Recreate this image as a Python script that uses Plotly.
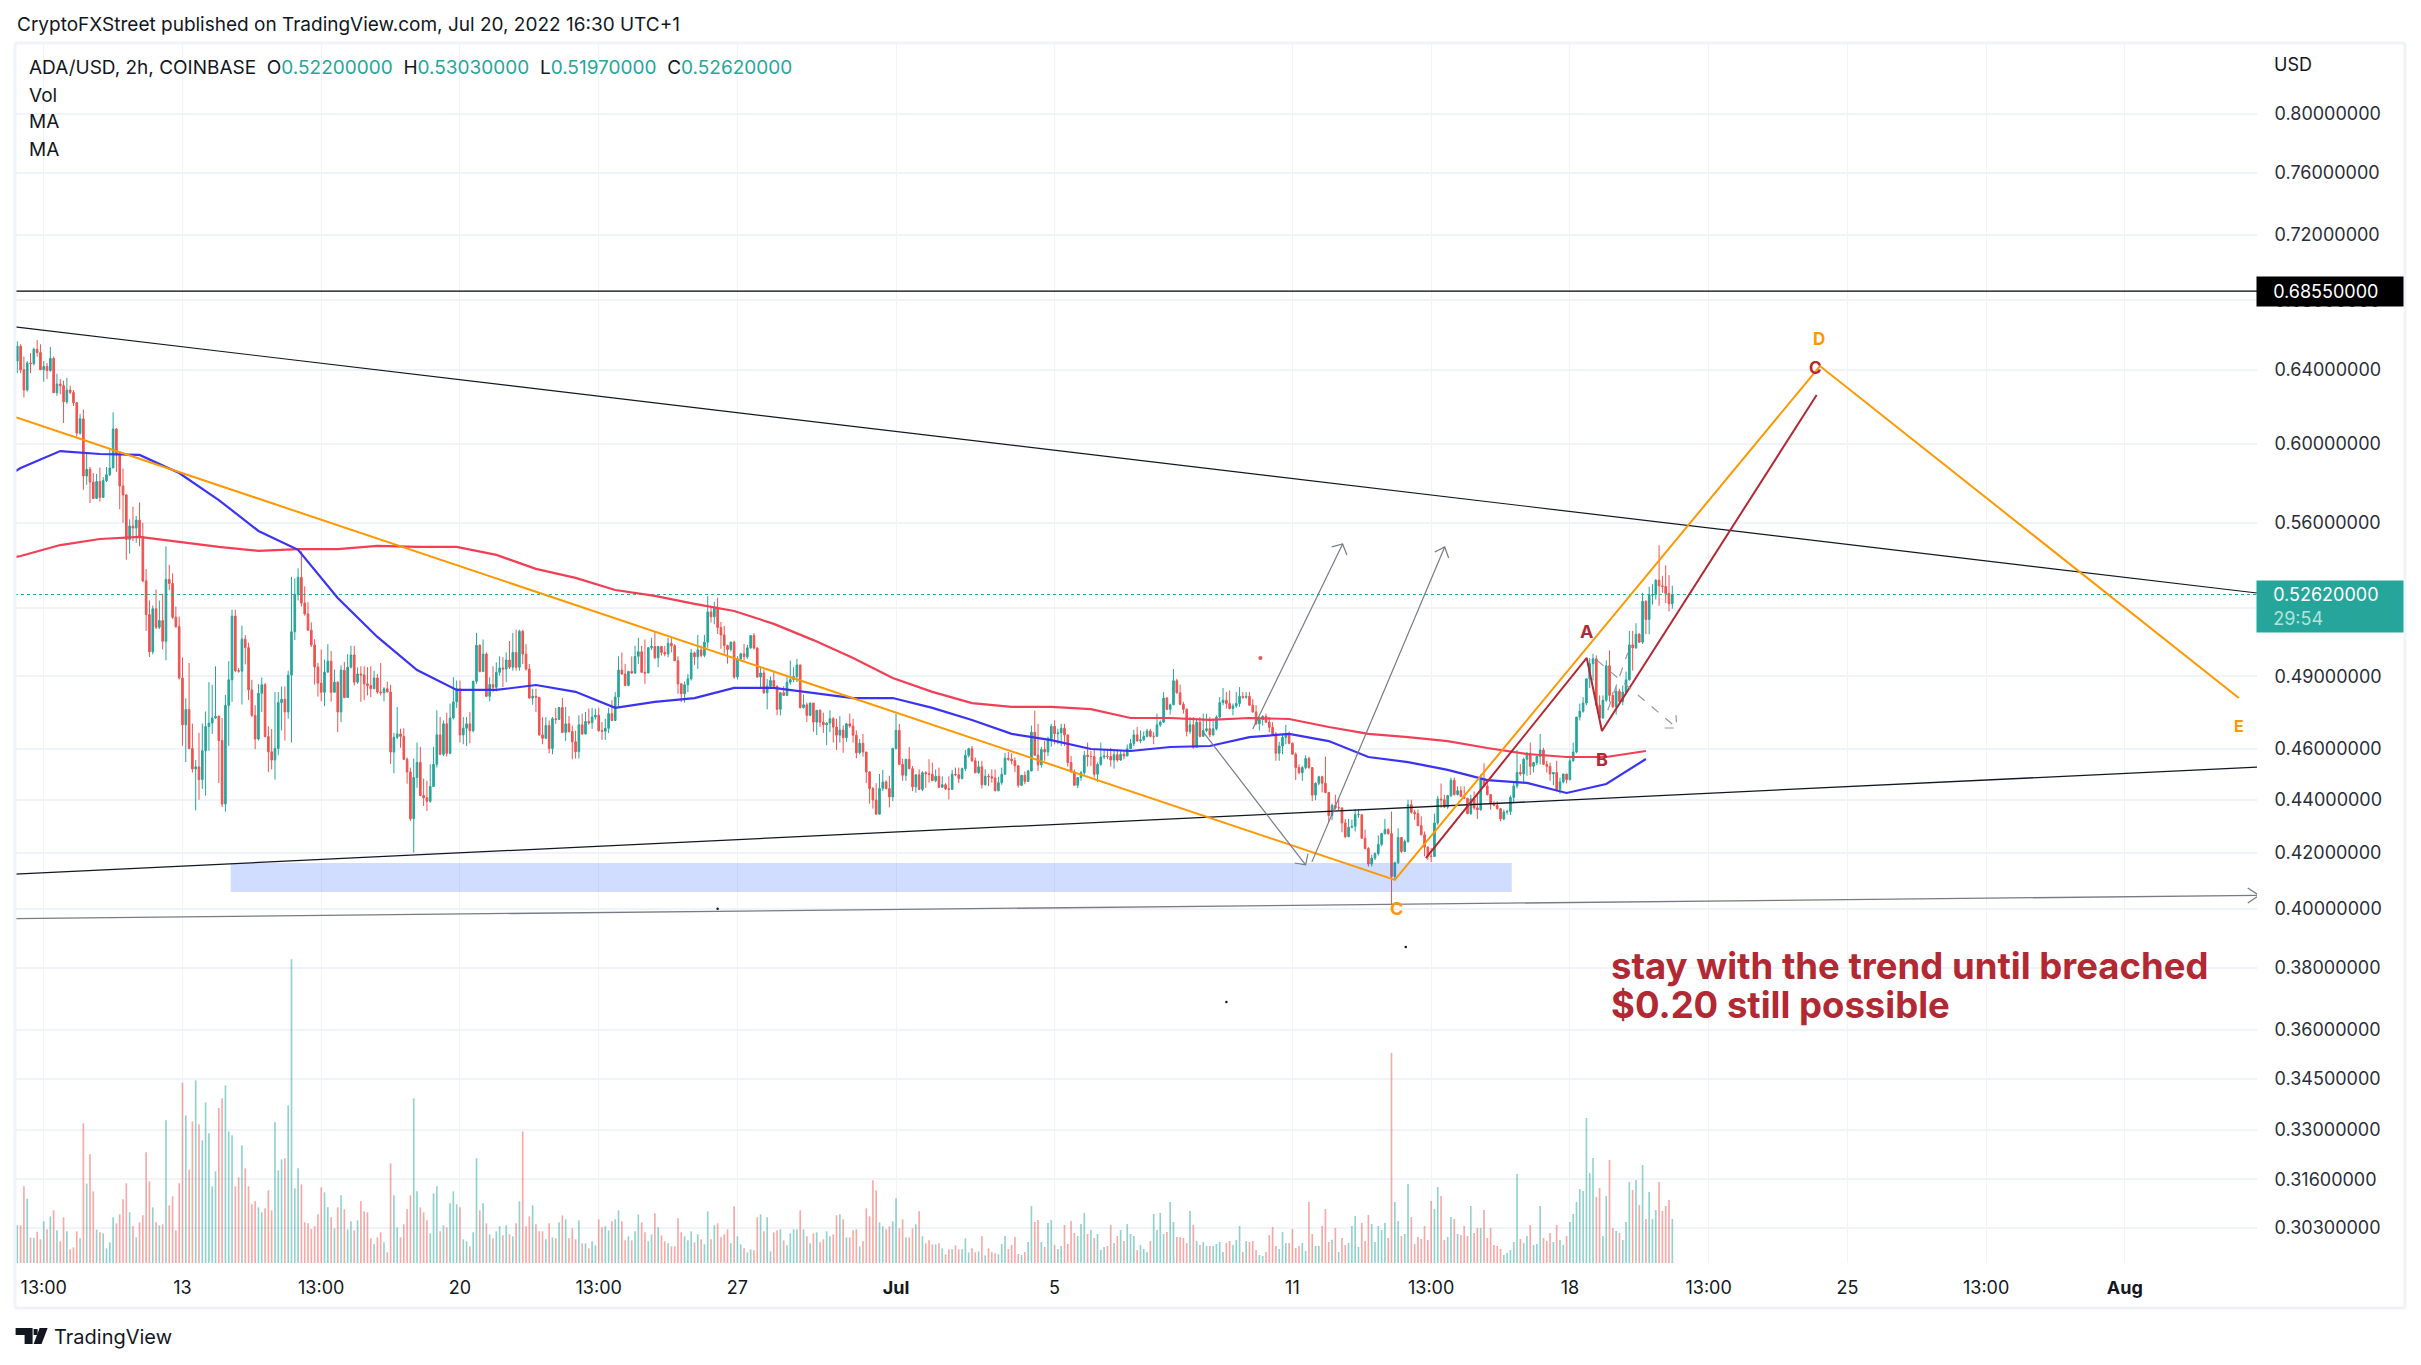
import numpy as np
import pandas as pd
import plotly.graph_objects as go

# prices are in 1/10000 USD, one row of ten per line
FIRST_OPEN = 6450
closes = [
    6534,6401,6289,6439,6435,6517,6498,6401,6420,6397,
    6465,6274,6322,6313,6225,6289,6276,6220,6057,6133,
    5835,5869,5804,5722,5807,5727,5812,5841,5876,6079,
    5943,5784,5739,5521,5586,5576,5615,5534,5325,5171,
    5006,5197,5114,5144,5052,5332,5313,5159,5117,4893,
    4697,4760,4601,4520,4528,4478,4592,4690,4704,4725,
    4732,4633,4384,4777,4885,5164,4924,4922,5061,5024,
    4842,4736,4639,4828,4864,4649,4588,4555,4601,4789,
    4803,4750,4905,5094,5263,5341,5223,5174,5101,5036,
    4940,4871,4832,4918,4965,4832,4875,4750,4926,4810,
    4939,4992,4875,4910,4906,4868,4861,4847,4893,4833,
    4830,4847,4833,4587,4646,4660,4650,4558,4508,4328,
    4486,4545,4416,4408,4394,4451,4538,4656,4578,4701,
    4582,4725,4792,4847,4656,4683,4701,4673,4879,5034,
    4920,4996,4815,4865,4853,4917,4936,4931,4970,4939,
    5003,4939,5096,4996,4931,4808,4815,4811,4656,4642,
    4694,4601,4722,4719,4768,4666,4701,4669,4628,4588,
    4697,4660,4711,4705,4729,4736,4673,4671,4683,4743,
    4715,4812,4927,4910,4861,4921,4914,4986,5006,4917,
    4914,5024,5029,4980,5029,5003,4996,5043,5032,4967,
    4868,4826,4864,4889,5001,4984,5014,4990,5048,5183,
    5161,5204,5113,5080,5033,5016,5048,4897,4975,4997,
    4984,5023,5077,5022,4897,4914,4830,4858,4882,4858,
    4761,4830,4819,4875,4886,4899,4949,4768,4780,4736,
    4787,4708,4757,4708,4697,4704,4722,4688,4655,4676,
    4644,4701,4692,4655,4584,4622,4587,4508,4443,4399,
    4345,4444,4469,4443,4411,4601,4674,4538,4495,4558,
    4521,4450,4497,4440,4505,4501,4499,4474,4491,4448,
    4458,4442,4440,4499,4497,4482,4521,4574,4600,4552,
    4505,4528,4458,4491,4489,4484,4435,4466,4499,4562,
    4558,4552,4532,4456,4495,4471,4512,4667,4574,4536,
    4597,4587,4641,4691,4661,4664,4683,4656,4545,4508,
    4456,4486,4505,4574,4569,4569,4499,4538,4567,4571,
    4569,4555,4576,4555,4578,4571,4600,4621,4656,4632,
    4636,4650,4672,4650,4650,4697,4708,4808,4761,4780,
    4881,4830,4782,4761,4670,4697,4606,4708,4650,4674,
    4681,4656,4681,4729,4789,4799,4785,4764,4775,4785,
    4815,4811,4815,4778,4750,4701,4719,4732,4708,4687,
    4660,4582,4611,4646,4660,4622,4578,4525,4505,4525,
    4561,4525,4418,4464,4489,4464,4428,4340,4378,4369,
    4369,4312,4261,4296,4299,4343,4343,4255,4217,4160,
    4182,4198,4232,4272,4287,4272,4115,4165,4258,4206,
    4243,4381,4352,4347,4302,4268,4222,4190,4188,4312,
    4403,4400,4372,4416,4475,4420,4435,4413,4406,4347,
    4403,4369,4362,4479,4453,4420,4385,4379,4366,4327,
    4353,4355,4409,4453,4506,4500,4558,4582,4530,4545,
    4569,4595,4538,4530,4500,4506,4440,4469,4500,4478,
    4552,4587,4729,4753,4787,4889,4954,4975,4778,4725,
    4799,4945,4819,4771,4836,4794,4833,4885,5036,5023,
    5083,5048,5231,5149,5259,5262,5328,5302,5299,5267,
    5220,5262,
]
highs = [
    6562,6545,6476,6450,6495,6526,6569,6545,6450,6439,
    6530,6476,6379,6350,6341,6356,6313,6289,6223,6160,
    6183,5951,5881,5850,5846,5878,5829,5881,5977,6168,
    6084,5960,5873,5743,5619,5681,5635,5702,5602,5380,
    5235,5212,5285,5235,5266,5488,5400,5360,5207,5162,
    4981,4807,4957,4702,4555,4664,4702,4752,4875,4864,
    4943,4736,4725,4821,4965,5193,5193,4936,5121,5079,
    5046,4885,4778,4867,4895,4871,4691,4680,4833,4833,
    4857,4857,4924,5344,5337,5384,5464,5300,5227,5136,
    5061,4958,5016,4972,5039,5009,4929,4878,4947,4962,
    4996,5032,5032,4938,4943,4943,4939,4943,4924,4910,
    4957,4854,4877,4864,4664,4771,4681,4683,4565,4525,
    4561,4625,4608,4482,4473,4538,4608,4757,4729,4715,
    4747,4785,4896,4882,4882,4729,4729,4750,4879,5089,
    5039,5060,5003,4896,4943,4960,4986,4982,5003,5053,
    5089,5103,5103,5103,5039,4953,4847,4847,4812,4729,
    4729,4715,4729,4767,4771,4808,4771,4733,4694,4673,
    4736,4743,4750,4764,4767,4764,4767,4708,4722,4767,
    4799,4833,4986,5003,4953,4921,4986,5032,5067,5032,
    5060,5024,5067,5096,5032,5032,5032,5067,5072,5039,
    4986,4861,4878,4910,5019,5007,5080,5033,5080,5255,
    5210,5229,5248,5138,5120,5037,5051,5055,4987,5001,
    5040,5036,5077,5088,5026,4943,4928,4889,4900,4917,
    4861,4833,4858,4903,4968,4939,4975,4949,4822,4789,
    4789,4785,4757,4761,4747,4708,4757,4729,4722,4733,
    4694,4705,4743,4722,4674,4639,4660,4587,4511,4449,
    4464,4500,4516,4475,4493,4604,4743,4701,4560,4558,
    4607,4531,4497,4518,4511,4511,4558,4545,4518,4525,
    4491,4464,4491,4516,4525,4525,4525,4595,4604,4611,
    4565,4552,4552,4518,4500,4518,4518,4489,4525,4584,
    4587,4582,4565,4534,4495,4510,4516,4694,4755,4701,
    4608,4632,4649,4701,4715,4681,4701,4701,4656,4571,
    4518,4486,4512,4591,4625,4591,4597,4545,4625,4600,
    4600,4604,4597,4597,4591,4591,4617,4639,4677,4688,
    4674,4670,4681,4681,4667,4743,4715,4833,4812,4785,
    4931,4889,4864,4792,4764,4729,4729,4725,4729,4743,
    4743,4729,4722,4736,4812,4850,4833,4840,4785,4833,
    4854,4833,4833,4833,4803,4778,4729,4736,4743,4729,
    4708,4667,4628,4660,4697,4670,4625,4585,4538,4532,
    4574,4569,4525,4467,4493,4493,4569,4430,4385,4419,
    4406,4369,4327,4327,4324,4365,4365,4343,4287,4222,
    4194,4203,4265,4275,4327,4292,4355,4169,4292,4258,
    4250,4400,4400,4362,4362,4337,4280,4225,4219,4347,
    4415,4463,4419,4419,4486,4486,4452,4452,4452,4406,
    4419,4432,4426,4499,4542,4479,4419,4394,4394,4366,
    4362,4362,4416,4471,4595,4539,4565,4587,4625,4548,
    4572,4660,4604,4552,4545,4506,4552,4486,4500,4500,
    4572,4625,4729,4785,4812,4889,4979,4997,4990,4819,
    4819,4968,5012,4833,4854,4847,4861,4920,5098,5098,
    5132,5088,5270,5236,5298,5310,5333,5493,5349,5398,
    5352,5303,
]
lows = [
    6382,6382,6248,6281,6382,6425,6474,6401,6335,6350,
    6390,6274,6257,6266,6111,6214,6266,6202,6040,6049,
    5765,5791,5699,5719,5719,5706,5724,5804,5835,5876,
    5856,5668,5602,5424,5453,5513,5505,5488,5318,5098,
    4983,4995,5106,5106,5016,4969,5282,5151,5111,4886,
    4612,4547,4598,4505,4359,4400,4442,4416,4592,4660,
    4722,4465,4372,4355,4612,4792,4918,4915,4781,4951,
    4800,4729,4598,4633,4750,4646,4507,4518,4478,4574,
    4674,4633,4722,4625,5057,5235,5207,5166,5098,5027,
    4864,4814,4795,4774,4915,4793,4832,4667,4708,4807,
    4816,4934,4861,4868,4792,4799,4819,4812,4847,4826,
    4819,4794,4833,4539,4503,4639,4604,4555,4462,4319,
    4202,4446,4414,4376,4357,4389,4451,4525,4574,4571,
    4569,4578,4719,4767,4625,4618,4611,4622,4666,4868,
    4917,4920,4812,4794,4833,4836,4903,4854,4875,4931,
    4924,4924,4924,4953,4924,4805,4780,4750,4653,4618,
    4639,4582,4578,4701,4719,4663,4632,4666,4558,4561,
    4561,4656,4657,4697,4680,4719,4669,4636,4636,4663,
    4712,4715,4767,4906,4858,4858,4910,4910,4953,4914,
    4868,4914,5014,4974,4939,4989,4986,4982,5003,4967,
    4826,4791,4789,4833,4882,4949,4932,4982,4982,5023,
    5135,5128,5084,5019,4997,4954,5007,4889,4886,4964,
    4968,4975,5019,5016,4894,4854,4826,4761,4850,4854,
    4736,4736,4817,4817,4864,4875,4875,4764,4764,4708,
    4732,4669,4655,4688,4664,4614,4667,4625,4595,4625,
    4584,4628,4685,4625,4562,4578,4569,4464,4385,4366,
    4345,4345,4433,4440,4371,4395,4597,4535,4473,4473,
    4518,4433,4427,4437,4433,4446,4466,4472,4468,4446,
    4450,4437,4401,4443,4491,4464,4479,4511,4565,4548,
    4503,4501,4443,4455,4453,4466,4433,4433,4458,4498,
    4552,4538,4508,4447,4453,4460,4470,4510,4571,4512,
    4525,4552,4571,4608,4618,4618,4611,4611,4529,4505,
    4456,4445,4473,4495,4529,4532,4486,4469,4532,4558,
    4558,4529,4521,4548,4552,4558,4578,4597,4611,4628,
    4622,4632,4646,4646,4618,4650,4688,4705,4757,4739,
    4778,4826,4778,4743,4650,4660,4600,4604,4646,4653,
    4667,4646,4653,4674,4722,4778,4764,4761,4736,4767,
    4771,4805,4805,4775,4747,4697,4674,4694,4705,4667,
    4656,4552,4552,4578,4618,4618,4578,4476,4499,4473,
    4518,4521,4395,4398,4456,4428,4425,4315,4322,4362,
    4360,4277,4255,4258,4292,4280,4331,4252,4213,4151,
    4151,4175,4191,4225,4268,4268,4015,4103,4160,4200,
    4206,4238,4347,4324,4299,4265,4188,4175,4167,4185,
    4305,4369,4369,4365,4410,4416,4416,4410,4403,4345,
    4343,4362,4327,4358,4450,4416,4362,4375,4362,4318,
    4322,4343,4342,4387,4444,4493,4467,4493,4496,4506,
    4535,4538,4535,4506,4473,4456,4432,4423,4463,4463,
    4475,4548,4582,4715,4747,4778,4850,4882,4775,4722,
    4722,4792,4792,4768,4739,4785,4778,4823,4882,4924,
    5019,5045,5040,5083,5083,5216,5239,5211,5270,5223,
    5185,5197,
]
# volume, arbitrary units
volumes = [
    113,113,230,193,76,76,94,71,125,101,140,158,98,65,137,95,41,47,95,74,
    419,238,326,215,100,92,89,44,62,137,119,146,191,239,152,110,77,122,143,332,
    245,167,122,113,116,428,173,200,98,239,541,443,280,425,548,416,368,482,389,230,
    275,465,494,533,395,383,230,257,353,284,230,176,185,167,152,164,218,158,422,278,
    311,314,473,911,224,284,236,122,119,102,110,146,227,212,167,137,104,167,203,161,
    101,125,98,128,185,155,152,74,56,77,92,62,32,299,203,107,77,116,161,203,
    494,215,167,152,128,89,209,230,95,113,107,179,215,176,167,71,65,50,92,314,
    158,179,119,86,74,95,110,83,113,86,80,119,185,395,110,140,173,116,95,95,
    71,119,77,74,122,143,131,74,104,71,128,59,59,44,65,53,131,107,110,98,
    125,131,158,125,68,80,68,95,146,122,92,65,86,149,107,83,65,59,50,50,
    134,92,80,68,95,62,86,71,56,155,71,113,119,77,86,101,59,170,80,56,
    44,32,41,38,137,146,95,137,35,92,98,101,68,53,89,101,101,158,101,80,
    59,89,92,62,71,95,80,86,143,146,131,77,77,98,101,50,65,164,140,248,
    218,122,110,101,110,125,194,104,131,77,77,104,116,155,80,59,68,56,56,59,
    44,26,41,41,53,41,41,74,32,44,32,35,80,23,44,32,29,26,
    57,81,42,54,78,27,24,33,63,171,123,129,63,48,120,129,54,42,51,114,
    57,126,90,81,117,150,87,99,75,87,39,48,51,114,60,81,99,66,117,87,
    81,39,54,42,33,66,147,99,150,87,93,183,123,78,78,75,60,156,114,66,
    54,63,51,51,51,57,63,33,60,66,54,69,111,33,66,63,66,39,24,21,
    33,84,108,51,42,93,60,60,102,45,51,60,36,183,87,51,51,111,162,63,
    70,105,33,75,54,60,111,141,48,120,66,144,117,63,111,99,120,75,630,183,
    126,81,87,237,138,57,78,72,111,69,186,162,228,201,69,78,138,132,87,84,
    111,81,171,90,105,105,159,75,105,54,51,42,24,30,39,63,267,72,60,81,
    114,54,57,171,75,66,90,63,114,69,54,81,123,147,183,222,216,435,270,315,
    198,225,81,201,309,105,96,90,69,123,243,219,249,174,294,132,213,132,159,243,
    156,171,189,132,
]

# daily moving averages, one value per day from ma_start
ma_start = "2022-06-07 23:00"
ma_blue = [
    .5749,.5876,.5963,.5948,.5943,.5850,.5714,.5562,.5471,.5246,.5071,.4927,.4842,.4842,
    .4863,.4834,.4767,.4792,.4808,.4851,.4851,.4830,.4808,.4808,.4767,.4717,.4660,.4635,
    .4599,.4591,.4607,.4611,.4647,.4660,.4631,.4567,.4547,.4516,.4476,.4465,.4426,.4461,.4559,
]
ma_red = [
    .5400,.5442,.5494,.5523,.5533,.5509,.5485,.5466,.5475,.5475,.5490,.5485,.5485,.5447,
    .5381,.5339,.5283,.5256,.5219,.5187,.5129,.5057,.4979,.4893,.4834,.4787,.4771,.4771,
    .4762,.4725,.4725,.4717,.4725,.4721,.4688,.4660,.4647,.4631,.4603,.4579,.4567,.4567,.4591,
]

# 0.52 has a gridline but its label sits behind the last price box
price_ticks = [.80,.76,.72,.68,.64,.60,.56,.52,.49,.46,.44,.42,.40,.38,.36,.345,.33,.316,.303]
hidden_price_labels = [.52]
time_ticks = ["2022-06-09 13:00","2022-06-13 01:00","2022-06-16 13:00","2022-06-20 01:00",
              "2022-06-23 13:00","2022-06-27 01:00","2022-07-01 01:00","2022-07-05 01:00",
              "2022-07-11 01:00","2022-07-14 13:00","2022-07-18 01:00","2022-07-21 13:00",
              "2022-07-25 01:00","2022-07-28 13:00","2022-08-01 01:00"]
time_labels = ["13:00","13","13:00","20","13:00","27","<b>Jul</b>","5","11","13:00","18","13:00",
               "25","13:00","<b>Aug</b>"]

# drawings on the chart: bar offsets from the first bar, and prices
resistance_level = .6855
last_price = .5262
upper_trend = ([-0.7, 678], [.6645, .5269])
lower_trend = ([-0.7, 678], [.4124, .4527])
base_arrow = ([-0.7, 678.6, None, 675.2, 678.6, 675.2], [.3967, .4048, None, .4074, .4048, .4021])
orange_abcd = ([-0.7, 417, 545.7, 672.5], [.6143, .4103, .6422, .4808])
red_abc = ([426.4, 475.1, 479.7, 544.7], [.4182, .4979, .4672, .6262])
grey_arrows = [
    ([374, 401.2, None, 397.9, 401.2, 402.5], [.4680, .5499, None, .5485, .5499, .5447]),
    ([391.9, 432.1, None, 429.1, 432.1, 433.3], [.4168, .5485, None, .5461, .5485, .5432]),
    ([359.2, 390, None, 386.7, 390, 390.7], [.4664, .4157, None, .4164, .4157, .4197]),
]
dashed_arrows = [
    ([478.1, 502.4, None, 498.7, 502.4, 502.1], [.4970, .4684, None, .4684, .4684, .4737]),
    ([481.5, 487.5], [.4758, .5001]),
]
support_zone = ([64.6, 452.4, 452.4, 64.6, 64.6], [.4164, .4164, .4060, .4060, .4164])
stray_dots = ([212, 366, 420.3], [.4001, .3689, .3870])
red_dot = ([376.3], [.4979])

UP = "#26a69a"
DOWN = "#ef5350"
GRID = "#f0f3fa"
TEXT = "#131722"
ORANGE = "#ff9800"
DARK_RED = "#b22833"
GREY = "#787b86"
FONT = "Inter"

# page has an 8px body margin, all pixel positions below are for the full window
PAGE = 8
LEFT, RIGHT, TOP, BOTTOM = 15.4, 2257, 43, 1263
WIDTH, HEIGHT = 2421 - 2 * PAGE, 1365 - 2 * PAGE

START = pd.Timestamp("2022-06-08 21:00")


def bar_time(bars):
    out = []
    for b in bars:
        out.append(None if b is None else (START + pd.Timedelta(hours=2 * b)).strftime("%Y-%m-%d %H:%M:%S"))
    return out


def px(x):
    return (x - LEFT) / (RIGHT - LEFT)


def py(y):
    return 1 - (y - TOP) / (BOTTOM - TOP)


opens = [FIRST_OPEN] + closes[:-1]
times = bar_time(list(range(len(closes))))
vol_colors = ["rgba(38,166,154,0.5)" if c >= o else "rgba(239,83,80,0.5)" for o, c in zip(opens, closes)]
ma_times = pd.date_range(ma_start, periods=len(ma_blue), freq="D").strftime("%Y-%m-%d %H:%M:%S").tolist()


def add_line(fig, pts, color, width=1.2, dash="solid"):
    fig.add_trace(
        go.Scatter(
            x=bar_time(pts[0]),
            y=pts[1],
            mode="lines",
            line=dict(color=color, width=width, dash=dash),
            hoverinfo="skip",
            connectgaps=False,
        )
    )


fig = go.Figure()

fig.add_trace(
    go.Scatter(
        x=bar_time(support_zone[0]),
        y=support_zone[1],
        mode="lines",
        fill="toself",
        fillcolor="rgba(41,98,255,0.22)",
        line=dict(width=0),
        hoverinfo="skip",
    )
)
add_line(fig, upper_trend, "#131722", 1.2)
add_line(fig, lower_trend, "#131722", 1.3)
add_line(fig, base_arrow, GREY, 1.3)
add_line(fig, ([-0.7, 678], [resistance_level, resistance_level]), "#000000", 1.3)
add_line(fig, ([-0.7, 678], [last_price, last_price]), UP, 1, "dot")

fig.add_trace(
    go.Candlestick(
        x=times,
        open=[v / 10000 for v in opens],
        high=[v / 10000 for v in highs],
        low=[v / 10000 for v in lows],
        close=[v / 10000 for v in closes],
        increasing=dict(line=dict(color=UP, width=1), fillcolor=UP),
        decreasing=dict(line=dict(color=DOWN, width=1), fillcolor=DOWN),
        whiskerwidth=0,
    )
)
fig.add_trace(
    go.Bar(
        x=times,
        y=volumes,
        width=3.6e6,
        marker=dict(color=vol_colors, line=dict(width=0)),
        yaxis="y2",
    )
)

fig.add_trace(go.Scatter(x=ma_times, y=ma_red, mode="lines", line=dict(color="#f23f55", width=2.2)))
fig.add_trace(go.Scatter(x=ma_times, y=ma_blue, mode="lines", line=dict(color="#3a33f5", width=2.2)))

add_line(fig, orange_abcd, ORANGE, 2)
add_line(fig, red_abc, DARK_RED, 2)
for arrow in grey_arrows:
    add_line(fig, arrow, GREY, 1.2)
for arrow in dashed_arrows:
    add_line(fig, arrow, "#9598a1", 1.2, "dash")

fig.add_trace(go.Scatter(x=bar_time(stray_dots[0]), y=stray_dots[1], mode="markers",
                         marker=dict(color="#131722", size=2.5)))
fig.add_trace(go.Scatter(x=bar_time(red_dot[0]), y=red_dot[1], mode="markers",
                         marker=dict(color=DOWN, size=4)))

notes = []


def note(x, y, text, size=18, color=TEXT, anchor="left", **kw):
    notes.append(
        dict(
            x=px(x), y=py(y), xref="paper", yref="paper", text=text, showarrow=False,
            xanchor=anchor, yanchor="middle", align="left",
            font=dict(family=FONT, size=size, color=color), **kw,
        )
    )


def v(text):
    return f'<span style="color:{UP}">{text}</span>'


note(15, 25, "CryptoFXStreet published on TradingView.com, Jul 20, 2022 16:30 UTC+1", 19)
note(27, 68, f"ADA/USD, 2h, COINBASE&nbsp;&nbsp;O{v('0.52200000')}&nbsp;&nbsp;H{v('0.53030000')}"
             f"&nbsp;&nbsp;L{v('0.51970000')}&nbsp;&nbsp;C{v('0.52620000')}", 19)
note(27, 95, "Vol", 19)
note(27, 122, "MA", 19)
note(27, 149, "MA", 19)
note(2272, 64, "USD", 18)

note(1819, 339, "<b>D</b>", 17, ORANGE, "center")
note(1816, 368, "<b>C</b>", 17, DARK_RED, "center")
note(1587, 631, "<b>A</b>", 18, DARK_RED, "center")
note(1602, 759, "<b>B</b>", 18, DARK_RED, "center")
note(2239, 726, "<b>E</b>", 16, ORANGE, "center")
note(1397, 908, "<b>C</b>", 18, ORANGE, "center")
note(1609, 966, "<b>stay with the trend until breached</b>", 36.5, DARK_RED)
note(1609, 1005, "<b>$0.20 still possible</b>", 36.5, DARK_RED)
note(52, 1337, "TradingView", 20)

note(2256, 291, "&nbsp;&nbsp;&nbsp;0.68550000", 18, "#ffffff", bgcolor="#000000", width=144, height=27)
note(2256, 606, "&nbsp;&nbsp;&nbsp;0.52620000<br>&nbsp;&nbsp;&nbsp;<span style='color:#b2e3dc'>29:54</span>",
     18, "#ffffff", bgcolor=UP, width=144, height=49)

frame = []
for x0, y0, x1, y1 in [(LEFT, TOP, 2405, TOP), (LEFT, 1308, 2405, 1308), (LEFT, TOP, LEFT, 1308), (2405, TOP, 2405, 1308)]:
    frame.append(dict(type="line", xref="paper", yref="paper", x0=px(x0), y0=py(y0), x1=px(x1), y1=py(y1),
                      line=dict(color=GRID, width=3)))


def poly(points):
    d = "M " + " L ".join(f"{px(a)},{py(b)}" for a, b in points) + " Z"
    return dict(type="path", xref="paper", yref="paper", path=d, fillcolor=TEXT, line=dict(width=0))


# TradingView logo mark
frame.append(poly([(16, 1328), (33, 1328), (33, 1344), (25, 1344), (25, 1335), (16, 1335)]))
frame.append(poly([(34, 1329), (38, 1329), (38, 1335), (34, 1335)]))
frame.append(poly([(40, 1328), (48, 1328), (42, 1344), (34, 1344)]))

fig.update_layout(
    width=WIDTH,
    height=HEIGHT,
    margin=dict(l=LEFT - PAGE, r=WIDTH - (RIGHT - PAGE), t=TOP - PAGE, b=HEIGHT - (BOTTOM - PAGE), autoexpand=False),
    plot_bgcolor="white",
    paper_bgcolor="white",
    showlegend=False,
    font=dict(family=FONT, size=18, color=TEXT),
    hovermode=False,
    annotations=notes,
    shapes=frame,
    xaxis=dict(
        type="date",
        range=bar_time([-0.7, 678]),
        rangeslider=dict(visible=False),
        tickmode="array",
        tickvals=time_ticks,
        ticktext=time_labels,
        tickangle=0,
        ticks="outside",
        ticklen=8,
        tickcolor="white",
        gridcolor=GRID,
        gridwidth=1,
        showline=False,
        zeroline=False,
        tickfont=dict(family=FONT, size=18, color=TEXT),
    ),
    yaxis=dict(
        type="log",
        side="right",
        range=[np.log10(.2938), np.log10(.8511)],
        tickmode="array",
        tickvals=price_ticks,
        ticktext=["" if t in hidden_price_labels else f"{t:.8f}" for t in price_ticks],
        ticks="outside",
        ticklen=13,
        tickcolor="white",
        gridcolor=GRID,
        gridwidth=1.5,
        showline=False,
        zeroline=False,
        tickfont=dict(family=FONT, size=18, color="#2a2e39"),
    ),
    yaxis2=dict(overlaying="y", range=[0, 3660], visible=False),
)

fig.write_html("out.html")
